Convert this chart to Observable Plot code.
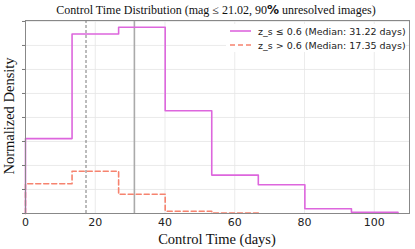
<!DOCTYPE html>
<html>
<head>
<meta charset="utf-8">
<script src="https://cdn.jsdelivr.net/npm/d3@7"></script>
<script src="https://cdn.jsdelivr.net/npm/@observablehq/plot@0.6"></script>
<style>
  html, body { margin: 0; padding: 0; background: #fff; }
  #chart svg { display: block; }
</style>
</head>
<body>
<div id="chart"></div>
<script>
// Histogram bin edges (days)
const binEdges = [0, 13.35, 26.7, 40.05, 53.4, 66.75, 80.1, 93.45, 106.8];
// Normalized density per bin (arbitrary units)
const lowZDensity = [0.0078, 0.0187, 0.0194, 0.0107, 0.0040, 0.0030, 0.0005, 0.00013];
const highZDensity = [0.0031, 0.0044, 0.0020, 0.00023, 0.00005];
const medians = [31.22, 17.35];
const seriesLabels = ["z_s \u2264 0.6 (Median: 31.22 days)", "z_s > 0.6 (Median: 17.35 days)"];
const xTicks = [0, 20, 40, 60, 80, 100];
const yTicks = [0, 0.0025, 0.005, 0.0075, 0.01, 0.0125, 0.015, 0.0175, 0.02];

const pink = "#dd66dd";
const salmon = "#f6836f";

function stepPoints(values) {
  const pts = [{x: binEdges[0], y: 0}];
  values.forEach((v, i) => {
    pts.push({x: binEdges[i], y: v});
    pts.push({x: binEdges[i + 1], y: v});
  });
  pts.push({x: binEdges[values.length], y: 0});
  return pts;
}

const lowPts = stepPoints(lowZDensity);
const highPts = stepPoints(highZDensity);

const W = 415, H = 249;
const mL = 25, mR = 6, mT = 20, mB = 36;

const plot = Plot.plot({
  width: W,
  height: H,
  marginLeft: mL,
  marginRight: mR,
  marginTop: mT,
  marginBottom: mB,
  style: {background: "#fff", fontFamily: "DejaVu Sans"},
  x: {domain: [0, 110.1], ticks: xTicks, label: null},
  y: {domain: [0, 0.0201], ticks: yTicks, label: null},
  marks: [
    Plot.gridX(xTicks, {stroke: "#e6e6e6", strokeOpacity: 1, strokeWidth: 0.8}),
    Plot.gridY(yTicks, {stroke: "#e6e6e6", strokeOpacity: 1, strokeWidth: 0.8}),
    Plot.ruleX([medians[1]], {stroke: "#555", strokeWidth: 0.8, strokeDasharray: "3,2"}),
    Plot.ruleX([medians[0]], {stroke: "#aaa", strokeWidth: 1.6}),
    Plot.line(highPts, {x: "x", y: "y", stroke: salmon, strokeWidth: 1.6, strokeDasharray: "5,3"}),
    Plot.line(lowPts, {x: "x", y: "y", stroke: pink, strokeWidth: 1.6}),
    Plot.axisX(xTicks, {tickSize: 0, tickPadding: 5, fontSize: 11, fill: "#222", label: null}),
    Plot.axisY(yTicks, {tickSize: 3, tickFormat: () => "", stroke: "#777", label: null}),
    Plot.frame({stroke: "#888", strokeWidth: 1})
  ]
});

document.getElementById("chart").appendChild(plot);

const svg = d3.select(plot);
const serif = "'Liberation Serif', 'Times New Roman', serif";

function addText(sel, x, y, txt, opts) {
  const t = sel.append("text")
    .attr("x", x).attr("y", y)
    .style("font-family", opts.family)
    .style("font-size", opts.size + "px")
    .style("text-anchor", opts.anchor || "middle")
    .style("fill", opts.fill || "#111")
    .text(txt);
  if (opts.transform) t.attr("transform", opts.transform);
  return t;
}

// Title
const title = addText(svg, 216, 14, "", {family: serif, size: 12});
title.append("tspan").text("Control Time Distribution (mag \u2264 21.02, 90");
title.append("tspan").style("font-family", "DejaVu Sans").style("font-weight", "bold").style("font-size", "12px").text("%");
title.append("tspan").text(" unresolved images)");
// X label
addText(svg, 217, 244, "Control Time (days)", {family: serif, size: 14.5});
// Y label
addText(svg, 0, 0, "Normalized Density", {family: serif, size: 14.5, transform: "translate(14,116) rotate(-90)"});

// Legend
const lg = svg.append("g").attr("transform", "translate(226,24)");
lg.append("rect").attr("x", 0).attr("y", 0).attr("width", 180).attr("height", 28).attr("fill", "#fff");
const styles = [{stroke: pink, dash: null}, {stroke: salmon, dash: "5,3"}];
seriesLabels.forEach((lab, i) => {
  const yy = 7 + i * 14;
  const ln = lg.append("line").attr("x1", 4).attr("x2", 25).attr("y1", yy).attr("y2", yy)
    .style("stroke", styles[i].stroke).style("stroke-width", "1.6px");
  if (styles[i].dash) ln.style("stroke-dasharray", styles[i].dash);
  addText(lg, 32, yy + 3.5, lab, {family: "DejaVu Sans", size: 9.5, anchor: "start", fill: "#222"});
});
</script>
</body>
</html>
